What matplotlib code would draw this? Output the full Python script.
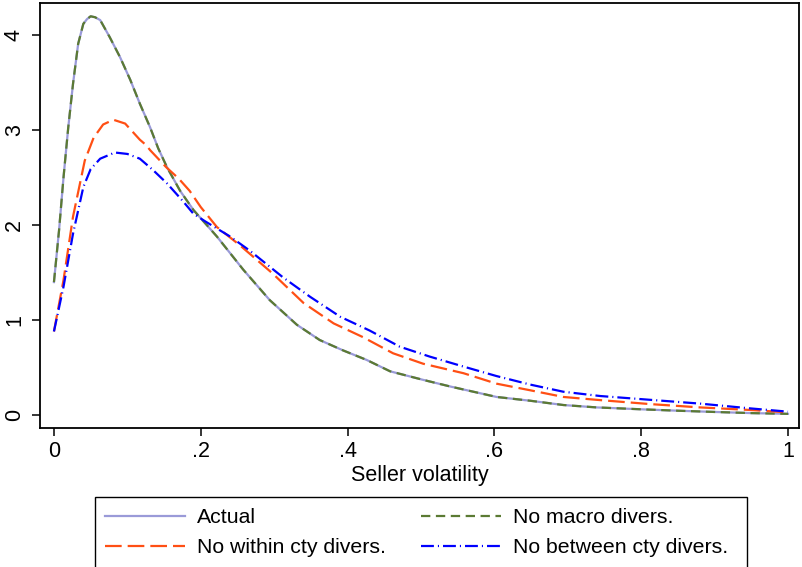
import matplotlib
matplotlib.use('Agg')
import matplotlib.pyplot as plt
from matplotlib.patches import Rectangle

plt.rcParams['font.family'] = ['Liberation Sans', 'DejaVu Sans']

#values
x_actual = [0, 0.007, 0.013, 0.0195, 0.026, 0.033, 0.040, 0.045, 0.050, 0.056, 0.063, 0.076, 0.090,
            0.104, 0.117, 0.131, 0.142, 0.154, 0.172, 0.19, 0.222, 0.258, 0.294, 0.331, 0.362,
            0.394, 0.426, 0.458, 0.503, 0.54, 0.603, 0.649, 0.694, 0.739, 0.80, 0.85, 0.90,
            0.95, 1.0]
y_actual = [1.40, 1.95, 2.50, 3.03, 3.49, 3.91, 4.12, 4.17, 4.20, 4.19, 4.16, 3.98, 3.77,
            3.53, 3.28, 3.03, 2.81, 2.61, 2.36, 2.16, 1.88, 1.53, 1.21, 0.95, 0.79,
            0.68, 0.58, 0.46, 0.37, 0.30, 0.19, 0.15, 0.105, 0.08, 0.06, 0.045, 0.032,
            0.02, 0.012]
# no macro diversification curve sits right on top of the actual one
x_macro = [0, 0.007, 0.013, 0.0195, 0.026, 0.033, 0.040, 0.045, 0.050, 0.056, 0.063, 0.076, 0.090,
           0.104, 0.117, 0.131, 0.142, 0.154, 0.172, 0.19, 0.222, 0.258, 0.294, 0.331, 0.362,
           0.394, 0.426, 0.458, 0.503, 0.54, 0.603, 0.649, 0.694, 0.739, 0.80, 0.85, 0.90,
           0.95, 1.0]
y_macro = [1.40, 1.95, 2.50, 3.03, 3.49, 3.91, 4.12, 4.17, 4.20, 4.19, 4.16, 3.98, 3.77,
           3.53, 3.28, 3.03, 2.81, 2.61, 2.36, 2.16, 1.88, 1.53, 1.21, 0.95, 0.79,
           0.68, 0.58, 0.46, 0.37, 0.30, 0.19, 0.15, 0.105, 0.08, 0.06, 0.045, 0.032,
           0.02, 0.012]
x_within = [0, 0.013, 0.026, 0.042, 0.054, 0.067, 0.081, 0.097, 0.117, 0.126, 0.131, 0.153, 0.17,
            0.185, 0.2, 0.222, 0.253, 0.298, 0.34, 0.381, 0.421, 0.462, 0.503, 0.558, 0.603,
            0.649, 0.694, 0.739, 0.812, 0.88, 0.948, 1.0]
y_within = [0.88, 1.42, 2.09, 2.68, 2.92, 3.06, 3.11, 3.07, 2.90, 2.84, 2.79, 2.61, 2.49,
            2.36, 2.19, 1.98, 1.79, 1.49, 1.18, 0.965, 0.82, 0.65, 0.54, 0.44, 0.33,
            0.26, 0.19, 0.16, 0.115, 0.08, 0.053, 0.028]
x_between = [0, 0.013, 0.026, 0.040, 0.050, 0.063, 0.083, 0.100, 0.117, 0.135, 0.154, 0.176, 0.19,
             0.206, 0.24, 0.267, 0.312, 0.349, 0.39, 0.43, 0.471, 0.512, 0.558, 0.603, 0.649,
             0.694, 0.744, 0.812, 0.88, 0.948, 1.0]
y_between = [0.88, 1.35, 1.91, 2.40, 2.59, 2.70, 2.765, 2.75, 2.70, 2.58, 2.44, 2.25, 2.12,
             2.04, 1.88, 1.73, 1.45, 1.245, 1.035, 0.89, 0.72, 0.615, 0.51, 0.41, 0.32,
             0.245, 0.20, 0.16, 0.12, 0.07, 0.035]

xticks = [0, 0.2, 0.4, 0.6, 0.8, 1.0]
xticklabels = ['0', '.2', '.4', '.6', '.8', '1']
yticks = [0, 1, 2, 3, 4]

W, H = 802, 567
fig = plt.figure(figsize=(W / 100, H / 100), dpi=100)
ax = fig.add_axes([40 / W, 1 - 428 / H, 759 / W, 425 / H])

ax.plot(x_actual, y_actual, color='#9a9ad8', lw=1.6, label='Actual', zorder=2)
ax.plot(x_macro, y_macro, color='#5b7a33', lw=1.6, dashes=(4.2, 2.5), label='No macro divers.', zorder=3)
ax.plot(x_within, y_within, color='#ff4f14', lw=1.6, dashes=(7.5, 2.7), label='No within cty divers.', zorder=4)
ax.plot(x_between, y_between, color='#0000ff', lw=1.6, dashes=(5.8, 1.8, 0.5, 1.8),
        label='No between cty divers.', zorder=5)

ax.set_xlim(-0.019, 1.015)
ax.set_ylim(-0.137, 4.34)
ax.set_xticks(xticks)
ax.set_xticklabels(xticklabels)
ax.set_yticks(yticks)
ax.set_yticklabels([str(v) for v in yticks], rotation=90, va='center')
ax.tick_params(axis='both', direction='out', length=5.8, width=1.1, labelsize=15.5, colors='black')
ax.tick_params(axis='x', pad=3.5)
ax.tick_params(axis='y', pad=5)
for s in ax.spines.values():
    s.set_linewidth(1.3)
ax.set_xlabel('Seller volatility', fontsize=15.5, labelpad=2)

# legend, row-wise order like the reference, frame drawn by hand
handles, labels = ax.get_legend_handles_labels()
order = [0, 2, 1, 3]
leg = fig.legend([handles[i] for i in order], [labels[i] for i in order], ncol=2,
                 loc='upper left', bbox_to_anchor=(105 / W, 1 - 508 / H), fontsize=15.3,
                 frameon=False, handlelength=3.75, handletextpad=0.56, columnspacing=1.68,
                 borderpad=0, labelspacing=0.52, borderaxespad=0)
fig.patches.append(Rectangle((95 / W, -0.01), 652 / W, 1 - 497 / H + 0.01, transform=fig.transFigure,
                             fill=False, edgecolor='black', linewidth=1.0))

fig.savefig('out.png', dpi=100)
